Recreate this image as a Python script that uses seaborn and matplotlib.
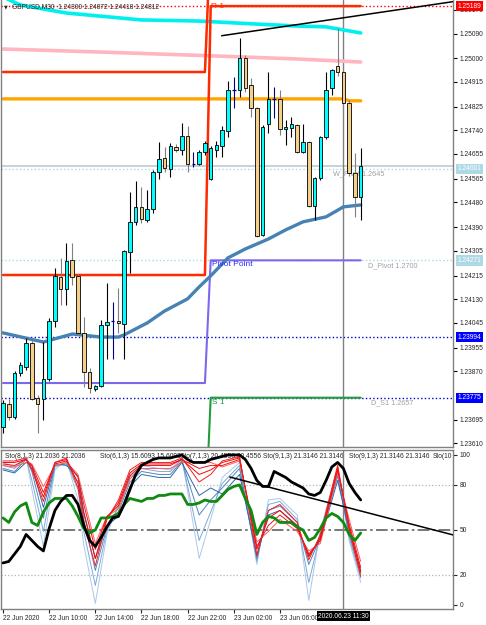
import numpy as np
import pandas as pd
import matplotlib
matplotlib.use('Agg')
import matplotlib.pyplot as plt
import seaborn as sns

sns.set_theme(style='white')
plt.rcParams['font.family'] = ['Liberation Sans', 'DejaVu Sans']

# GBPUSD M30 candles, bar 0 = 22 Jun 06:00 ... bar 62 = 23 Jun 13:00
opens = [1.23670, 1.23753, 1.23706, 1.23864, 1.23886, 1.23973, 1.23774, 1.23771, 1.23843, 1.24052,
         1.24211, 1.24168, 1.24272, 1.24215, 1.24009, 1.23868, 1.23807, 1.23818, 1.24038, 1.24052,
         1.24052, 1.24041, 1.24301, 1.24410, 1.24464, 1.24417, 1.24457, 1.24590, 1.24641, 1.24601,
         1.24680, 1.24669, 1.24720, 1.24619, 1.24619, 1.24662, 1.24565, 1.24669, 1.24684, 1.24738,
         1.24886, 1.24886, 1.25002, 1.24904, 1.24821, 1.24363, 1.24763, 1.24854, 1.24854, 1.24745,
         1.24749, 1.24760, 1.24662, 1.24698, 1.24467, 1.24568, 1.24716, 1.24893, 1.24973, 1.24951,
         1.24839, 1.24586, 1.24500]
highs = [1.23767, 1.23771, 1.23872, 1.23904, 1.23991, 1.23984, 1.23785, 1.23976, 1.24063, 1.24244,
         1.24280, 1.24334, 1.24334, 1.24222, 1.24067, 1.23883, 1.23821, 1.24056, 1.24189, 1.24121,
         1.24171, 1.24308, 1.24518, 1.24558, 1.24536, 1.24525, 1.24597, 1.24698, 1.24680, 1.24695,
         1.24691, 1.24767, 1.24756, 1.24662, 1.24669, 1.24702, 1.24684, 1.24702, 1.24756, 1.24919,
         1.24933, 1.25074, 1.25012, 1.24929, 1.24825, 1.24760, 1.24951, 1.24897, 1.24886, 1.24778,
         1.24789, 1.24763, 1.24763, 1.24702, 1.24572, 1.24720, 1.24951, 1.24962, 1.25110, 1.24955,
         1.24850, 1.24659, 1.24677]
lows = [1.23648, 1.23695, 1.23698, 1.23854, 1.23875, 1.23767, 1.23648, 1.23695, 1.23836, 1.24031,
        1.24110, 1.24110, 1.24182, 1.24002, 1.23814, 1.23792, 1.23799, 1.23814, 1.23915, 1.23915,
        1.24009, 1.23915, 1.24225, 1.24399, 1.24406, 1.24410, 1.24442, 1.24565, 1.24590, 1.24572,
        1.24662, 1.24651, 1.24590, 1.24608, 1.24615, 1.24651, 1.24561, 1.24644, 1.24644, 1.24716,
        1.24821, 1.24861, 1.24879, 1.24789, 1.24355, 1.24359, 1.24731, 1.24785, 1.24724, 1.24688,
        1.24716, 1.24659, 1.24659, 1.24464, 1.24417, 1.24561, 1.24709, 1.24868, 1.24937, 1.24836,
        1.24576, 1.24428, 1.24417]
closes = [1.23756, 1.23706, 1.23864, 1.23893, 1.23973, 1.23771, 1.23753, 1.23843, 1.24052, 1.24215,
          1.24168, 1.24269, 1.24211, 1.24009, 1.23868, 1.23810, 1.23818, 1.24038, 1.24049, 1.24052,
          1.24045, 1.24305, 1.24410, 1.24464, 1.24420, 1.24457, 1.24590, 1.24637, 1.24605, 1.24684,
          1.24669, 1.24720, 1.24619, 1.24619, 1.24662, 1.24695, 1.24677, 1.24688, 1.24742, 1.24886,
          1.24886, 1.25002, 1.24893, 1.24821, 1.24359, 1.24753, 1.24854, 1.24854, 1.24745, 1.24753,
          1.24763, 1.24662, 1.24698, 1.24467, 1.24568, 1.24716, 1.24886, 1.24958, 1.24951, 1.24839,
          1.24586, 1.24500, 1.24612]

# indicator lines (bar, price)
cyan_bar = [0, 3, 11, 24, 34, 44, 51, 56, 59, 62]
cyan_val = [1.25222, 1.25193, 1.25164, 1.25139, 1.25135, 1.25124, 1.25117, 1.25114, 1.25103, 1.25092]
pink_bar = [0, 17, 34, 51, 62]
pink_val = [1.25034, 1.25023, 1.25011, 1.24998, 1.24987]
ma_bar = [0, 7, 12, 17, 20, 21, 25, 28, 32, 34, 36, 39, 42, 46, 49, 52, 56, 59, 62]
ma_val = [1.24009, 1.23976, 1.24005, 1.23994, 1.23994, 1.24002, 1.24045, 1.24088, 1.24132, 1.24175,
          1.24215, 1.24280, 1.24312, 1.24348, 1.24381, 1.24410, 1.24428, 1.24464, 1.24471]
orange_bar = [0, 59, 60, 62]
orange_val = [1.24854, 1.24854, 1.24847, 1.24847]

# daily pivot levels, old day -> new day (change at bar 36)
step_bar = [0, 35, 36, 62]
r2_val = [1.24951, 1.24951, 1.25450, 1.25450]
r1_val = [1.24218, 1.24218, 1.25189, 1.25189]
pp_val = [1.23828, 1.23828, 1.24271, 1.24271]
s1_val = [1.23300, 1.23300, 1.23775, 1.23775]

trend_bar = [37.9, 78.0]
trend_val = [1.25082, 1.25205]

price_ticks = [1.25175, 1.25090, 1.25000, 1.24915, 1.24825, 1.24740, 1.24655, 1.24565, 1.24480,
               1.24390, 1.24305, 1.24215, 1.24130, 1.24045, 1.23955, 1.23870, 1.23695, 1.23610]

# stochastic panel
black_sto = [28, 29, 34, 39, 47, 43, 39, 36, 51, 63, 69, 73, 73, 67, 53, 43, 39, 45, 52, 58,
             59, 67, 77, 87, 93, 95, 97, 98, 98, 98, 99, 100, 97, 95, 95, 95, 97, 98, 99, 100,
             100, 100, 97, 91, 83, 79, 79, 89, 87, 85, 82, 80, 78, 74, 73, 75, 83, 92, 95, 91,
             81, 75, 70]
green_sto = [58, 55, 62, 66, 68, 55, 53, 62, 68, 71, 71, 71, 66, 59, 51, 48, 50, 58, 58, 59,
             61, 67, 71, 70, 69, 71, 71, 73, 73, 74, 74, 74, 67, 67, 68, 70, 69, 69, 73, 77,
             79, 80, 71, 63, 47, 55, 59, 58, 55, 55, 55, 52, 50, 43, 45, 51, 58, 61, 59, 55,
             47, 43, 48]
fan_bar = [0, 2, 4, 5, 7, 9, 11, 13, 14, 16, 18, 20, 22, 24, 27, 29, 31, 34, 36, 38,
           41, 44, 46, 48, 51, 53, 55, 58, 60, 62]
blue1 = [95, 92, 99, 77, 39, 90, 97, 70, 40, 1, 47, 67, 87, 93, 91, 90, 98, 31, 57, 85, 95, 27, 70, 71, 60, 3, 50, 91, 43, 15]
blue2 = [93, 91, 98, 83, 49, 92, 95, 77, 49, 13, 50, 65, 85, 91, 89, 89, 97, 43, 62, 81, 93, 29, 67, 69, 57, 15, 47, 89, 45, 18]
blue3 = [91, 89, 97, 89, 58, 93, 94, 82, 57, 23, 52, 62, 82, 89, 87, 87, 96, 60, 70, 78, 91, 31, 63, 66, 55, 27, 45, 86, 47, 21]
blue4 = [90, 88, 95, 93, 65, 94, 93, 86, 62, 31, 53, 59, 79, 87, 85, 85, 95, 73, 78, 74, 87, 33, 60, 63, 52, 33, 43, 83, 50, 23]
red1 = [96, 96, 98, 90, 69, 95, 98, 78, 55, 26, 57, 70, 90, 95, 95, 95, 98, 82, 87, 96, 99, 33, 63, 67, 55, 30, 47, 93, 50, 19]
red2 = [95, 95, 97, 91, 72, 95, 97, 81, 61, 31, 58, 68, 88, 94, 94, 94, 97, 87, 90, 95, 98, 37, 58, 63, 53, 32, 45, 92, 52, 22]
red3 = [94, 93, 97, 93, 75, 94, 96, 85, 67, 37, 59, 66, 86, 93, 93, 93, 97, 91, 93, 93, 97, 39, 53, 60, 51, 34, 43, 90, 54, 25]
red4 = [93, 92, 95, 94, 79, 93, 95, 87, 71, 41, 59, 64, 84, 91, 91, 91, 95, 95, 95, 92, 96, 42, 49, 57, 49, 36, 41, 88, 57, 29]
sto_trend_bar = [39.3, 78.0]
sto_trend_val = [85.3, 46.7]
sto_names = ['Sto(8,1,3) 21.2036 21.2036', 'Sto(6,1,3) 15.6093 15.6093', 'Sto(7,1,3) 20.4556 20.4556',
             'Sto(9,1,3) 21.3146 21.3146', 'Sto(9,1,3) 21.3146 21.3146', 'Sto(10']
sto_name_px = [5, 100, 180, 263, 349, 433]

tick_bars = [0, 8, 16, 24, 32, 40, 48]
tick_labels = ['22 Jun 2020', '22 Jun 10:00', '22 Jun 14:00', '22 Jun 18:00',
               '22 Jun 22:00', '23 Jun 02:00', '23 Jun 06:00']
cross_bar = 59

FS = 4.8
GRAY = '#808080'


def line(ax, x, y, color, lw, ls='-', z=2):
    sns.lineplot(x=x, y=y, ax=ax, color=color, lw=lw, ls=ls, estimator=None, sort=False,
                 legend=False, zorder=z)


fig = plt.figure(figsize=(4.86, 6.25), dpi=100)
fig.patch.set_facecolor('white')
ax = fig.add_axes([1 / 486, 1 - 447 / 625, 452 / 486, 447 / 625])
ax2 = fig.add_axes([1 / 486, 1 - 609 / 625, 452 / 486, 159 / 625])

# ---------- main panel ----------
bars = np.arange(len(opens))
o = np.array(opens); h = np.array(highs); l = np.array(lows); c = np.array(closes)
up = c > o
dn = c < o
dj = c == o

line(ax, cyan_bar, cyan_val, '#00f0f0', 2.6)
line(ax, pink_bar, pink_val, '#ffb6c1', 2.6)
line(ax, orange_bar, orange_val, '#ffa500', 2.4)
line(ax, step_bar, r2_val, '#ff2a00', 1.8)
line(ax, step_bar, r1_val, '#ff2a00', 1.8)
line(ax, step_bar, pp_val, '#7b68ee', 1.5)
line(ax, step_bar, s1_val, '#239b3c', 1.5)
line(ax, ma_bar, ma_val, '#4682b4', 2.4)
line(ax, trend_bar, trend_val, 'black', 1.1)

ax.axhline(1.25189, color='red', ls=':', lw=1.0, zorder=1.5)
ax.axhline(1.24612, color='#c0c8d0', lw=1.2, zorder=1.5)
ax.axhline(1.24601, color='#a8d8e8', ls=':', lw=1.0, zorder=1.5)
ax.axhline(1.24271, color='#a8d8e8', ls=':', lw=1.0, zorder=1.5)
ax.axhline(1.23994, color='#0000cd', ls=':', lw=1.0, zorder=1.5)
ax.axhline(1.23775, color='#0000cd', ls=':', lw=1.0, zorder=1.5)
ax.axvline(cross_bar, color=GRAY, lw=1.0, zorder=1.5)

ax.text(57.2, 1.24583, 'W_Pivot 1.2645', color='#a0a0a0', fontsize=5.2, va='center', zorder=1)
ax.text(63.3, 1.24252, 'D_Pivot 1.2700', color='#a0a0a0', fontsize=5.2, va='center', zorder=1)
ax.text(63.8, 1.23756, 'D_S1 1.2657', color='#a0a0a0', fontsize=5.2, va='center', zorder=1)
ax.text(36.1, 1.25200, 'R 1', color='#ff2a00', fontsize=6, va='top', zorder=6)
ax.text(36.3, 1.24269, 'Pivot Point', color='#2a2aff', fontsize=6, va='top', zorder=6)
ax.text(36.2, 1.23771, 'S 1', color='#239b3c', fontsize=6, va='top', zorder=6)

ax.vlines(bars[up], l[up], h[up], color='black', lw=0.8, zorder=4)
ax.vlines(bars[dn], l[dn], h[dn], color=GRAY, lw=0.8, zorder=4)
ax.vlines(bars[dj], l[dj], h[dj], color='#000080', lw=0.8, zorder=4)
ax.bar(bars[up], (c - o)[up], bottom=o[up], width=0.62, color='#00ffff',
       edgecolor='black', linewidth=0.6, zorder=5)
ax.bar(bars[dn], (o - c)[dn], bottom=c[dn], width=0.62, color='#f5d08a',
       edgecolor='black', linewidth=0.6, zorder=5)
ax.hlines(o[dj], bars[dj] - 0.31, bars[dj] + 0.31, color='#000080', lw=0.9, zorder=5)

ax.set_xlim(-0.35, 78.0)
ax.set_ylim(1.23597, 1.25211)
ax.set_xticks([])
ax.yaxis.tick_right()
ax.set_yticks(price_ticks)
ax.set_yticklabels([f'{p:.5f}' for p in price_ticks])
ax.tick_params(axis='y', right=True, left=False, length=3, width=0.8, color='black',
               labelsize=FS, pad=1.5)
ax.set_xlabel('')
ax.set_ylabel('')
for s in ['left', 'right', 'bottom']:
    ax.spines[s].set_color(GRAY)
    ax.spines[s].set_linewidth(1.0)
ax.spines['top'].set_visible(False)

ax.text(0.007, 1.25186, '\u25bc', transform=ax.get_yaxis_transform(), fontsize=3.5,
        va='center', family=['DejaVu Sans'])
ax.text(0.024, 1.25186, 'GBPUSD,M30  1.24300 1.24872 1.24418 1.24812',
        transform=ax.get_yaxis_transform(), fontsize=FS, va='center', zorder=7)

boxes = [(1.25189, '#ff0000'), (1.24601, '#add8e6'), (1.24271, '#add8e6'),
         (1.23994, '#0000ff'), (1.23775, '#0000ff')]
for p, bg in boxes:
    ax.text(1.0095, p, f'{p:.5f}', transform=ax.get_yaxis_transform(), ha='left', va='center',
            fontsize=FS, color='white', clip_on=False, zorder=10,
            bbox=dict(boxstyle='square,pad=0.25', fc=bg, ec='none'))

# ---------- stochastic panel ----------
ax2.axhline(80, color='#b4b4b4', ls=':', lw=0.9, zorder=1)
ax2.axhline(20, color='#b4b4b4', ls=':', lw=0.9, zorder=1)
ax2.axhline(50, color='#606060', ls=(0, (7, 2, 1.5, 2)), lw=1.2, zorder=1)

for vals, col in [(blue1, '#a9c9ea'), (blue2, '#7fa9d6'), (blue3, '#4f86c0'), (blue4, '#2f68a8')]:
    line(ax2, fan_bar, vals, col, 0.7)
for vals, col in [(red4, '#ff5a5a'), (red3, '#e81515'), (red2, '#ff0000'), (red1, '#f02020')]:
    line(ax2, fan_bar, vals, col, 0.7, z=2.2)
line(ax2, list(bars), green_sto, '#108a10', 2.0, z=3)
line(ax2, list(bars), black_sto, 'black', 2.0, z=3)
line(ax2, sto_trend_bar, sto_trend_val, 'black', 1.1, z=3)
ax2.axvline(cross_bar, color=GRAY, lw=1.0, zorder=1.5)

for name, px in zip(sto_names, sto_name_px):
    ax2.text((px - 1) / 452, 99.3, name, transform=ax2.get_yaxis_transform(), fontsize=FS,
             va='center', clip_on=True, zorder=1)

ax2.set_xlim(-0.35, 78.0)
ax2.set_ylim(-2.7, 103.3)
ax2.yaxis.tick_right()
ax2.set_yticks([0, 20, 50, 80, 100])
ax2.set_yticklabels(['0', '20', '50', '80', '100'])
ax2.set_xticks(tick_bars)
ax2.set_xticklabels(tick_labels, ha='left')
ax2.tick_params(axis='y', right=True, left=False, length=3, width=0.8, labelsize=FS, pad=1.5)
ax2.tick_params(axis='x', bottom=True, length=3, width=0.8, labelsize=FS, pad=1.5)
ax2.set_xlabel('')
ax2.set_ylabel('')
for s in ['left', 'right', 'bottom', 'top']:
    ax2.spines[s].set_color(GRAY)
    ax2.spines[s].set_linewidth(1.0)

ax2.text(cross_bar, -0.045, '2020.06.23 11:30', transform=ax2.get_xaxis_transform(),
         ha='center', va='center', fontsize=FS, color='white', clip_on=False, zorder=10,
         bbox=dict(boxstyle='square,pad=0.2', fc='black', ec='none'))

fig.savefig('out.png', dpi=100, facecolor='white')
